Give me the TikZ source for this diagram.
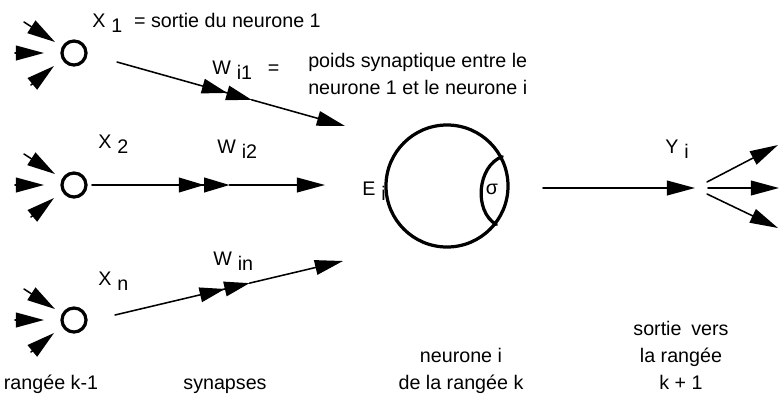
\documentclass[tikz,border=0pt]{standalone}
\usepackage{fontspec}
\setmainfont{Liberation Sans}
\usetikzlibrary{arrows.meta, calc, positioning}
% lowered index, set apart as in the drawing
\newcommand{\lowr}[1]{\hspace{0.3em}\raisebox{-0.5ex}{#1}}
\tikzset{
  >={Triangle[length=20pt, width=10.5pt]},
  every picture/.style={line cap=round, line join=round},
  lbl/.style={font=\fontsize{14}{19.1}\selectfont, inner sep=0pt},
  wire/.style={line width=1.1pt},
  syn/.style={wire, -{Triangle[length=18pt, width=10.5pt] Triangle[length=18pt, width=10.5pt]}},
  cell/.style={circle, draw, line width=2.3pt, inner sep=0pt},
  % spikes coming in from the previous layer
  spikes/.pic={
    \draw[wire, ->] (-50,-31) -- (-19,-11);
    \draw[wire, ->] (-59,0) -- (-30,0);
    \draw[wire, ->] (-43,32) -- (-20,13);
  },
}

\begin{document}
\begin{tikzpicture}[x=0.025cm, y=-0.025cm]
  \useasboundingbox (0,0) rectangle (779,397);
  % ---- layer k-1
  \node[cell, minimum size=0.6cm] (x1) at (74,53) {};
  \node[cell, minimum size=0.6cm] (x2) at (74,185) {};
  \node[cell, minimum size=0.6cm] (xn) at (74,320) {};
  \pic at (x1) {spikes};
  \pic at (x2) {spikes};
  \pic at (xn) {spikes};
  \node[lbl, anchor=base west] (lx1) at (92,27) {X\lowr{1}\hspace{0.6em}= sortie du neurone 1};
  \node[lbl, anchor=base west] (lx2) at (98,148) {X\lowr{2}};
  \node[lbl, anchor=base west] (lxn) at (98,285) {X\lowr{n}};
  % ---- synapses
  \coordinate (s1) at (117,62);  \coordinate (e1) at (345,126);
  \coordinate (s2) at (92,185);  \coordinate (e2) at (325,185);
  \coordinate (sn) at (115,315); \coordinate (en) at (343,261);
  \foreach \s/\e in {s1/e1, s2/e2, sn/en} {
    \draw[syn] (\s) -- ($(\s)!0.59!(\e)$);
    \draw[wire, ->] ($(\s)!0.59!(\e)$) -- (\e);
  }
  \node[lbl, anchor=base west] (lw1) at (212,74) {W\lowr{i1}\hspace{0.8em}=};
  \node[lbl, anchor=north west, align=left] (lpoids) at (308,53)
    {poids synaptique entre le\\neurone 1 et le neurone i};
  \node[lbl, anchor=base west] (lw2) at (217,153) {W\lowr{i2}};
  \node[lbl, anchor=base west] (lwn) at (213,265) {W\lowr{in}};
  % ---- neuron i
  \node[cell, minimum size=3.05cm] (neuron) at (447,186) {};
  \draw[line width=2.3pt] (neuron.28) to[bend right=65] (neuron.-38);
  \node[lbl, anchor=base] (sigma) at (492,194) {σ};
  \node[lbl, anchor=base west] (le) at (362,195) {E\lowr{i}};
  % ---- output towards layer k+1
  \coordinate (y0) at (543,188); \coordinate (y1) at (695,188);
  \draw[wire, ->] (y0) -- (y1);
  \node[lbl, anchor=base west] (ly) at (665,153) {Y\lowr{i}};
  \coordinate (fa) at (707,182); \coordinate (fb) at (708,188); \coordinate (fc) at (707,194);
  \coordinate (ta) at (778,145); \coordinate (tb) at (779,188); \coordinate (tc) at (778,228);
  \draw[wire, ->] (fa) -- (ta);
  \draw[wire, ->] (fb) -- (tb);
  \draw[wire, ->] (fc) -- (tc);
  % ---- captions
  \node[lbl, anchor=base] (crow) at (51,389) {rangée k-1};
  \node[lbl, anchor=base] (csyn) at (225,389) {synapses};
  \node[lbl, anchor=base, align=center] (cneur) at (461,389) {neurone i\\de la rangée k};
  \node[lbl, anchor=base, align=center] (cout) at (681,389) {sortie\enspace vers\\la rangée\\k + 1};
\end{tikzpicture}
\end{document}
